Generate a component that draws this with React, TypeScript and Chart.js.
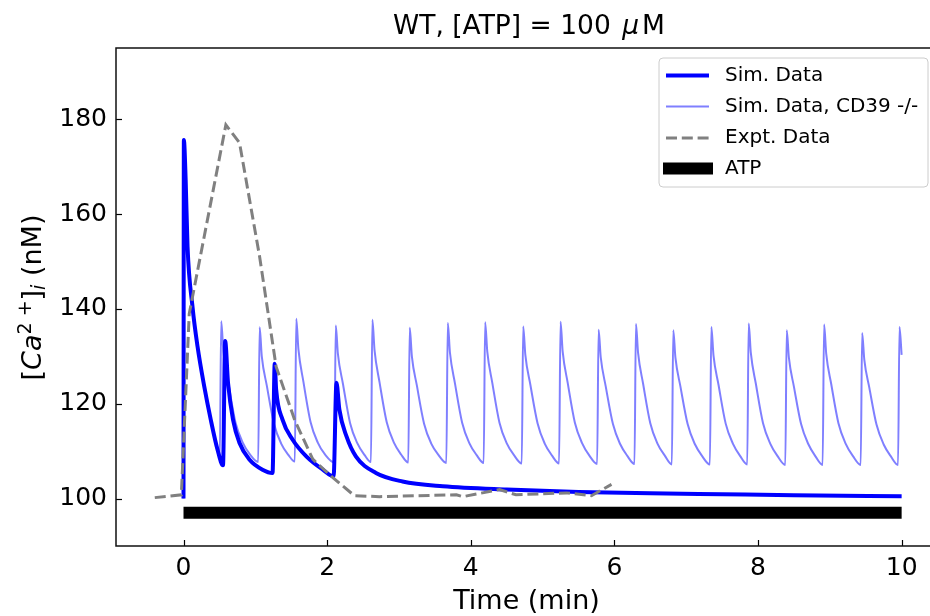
import React, { useEffect, useRef } from "react";
import { Chart, registerables } from "chart.js";
Chart.register(...registerables);

const FONT = '"DejaVu Sans", sans-serif';

// Axis ticks
const xTicks = [0, 2, 4, 6, 8, 10];
const yTicks = [100, 120, 140, 160, 180];

// Sim. Data (WT)
const simX = [0, 0.005, 0.03, 0.056, 0.125, 0.195, 0.288, 0.38, 0.474, 0.55, 0.58, 0.62, 0.69, 0.78, 0.92, 1.10, 1.24, 1.27, 1.29, 1.38, 1.52, 1.71, 1.94, 2.09, 2.13, 2.17, 2.27, 2.40, 2.68, 3.05, 3.61, 4.5, 5.5, 6.5, 7.5, 8.5, 10];
const simY = [100, 175.6, 167.2, 153.2, 140.5, 132.1, 123.7, 116.6, 110.3, 107.0, 133.2, 124.4, 116.6, 111.7, 108.2, 106.1, 105.4, 128.4, 123, 116.6, 112.4, 108.9, 106.1, 104.7, 124.4, 118.8, 113.1, 108.9, 105.4, 103.6, 102.6, 101.9, 101.4, 101.1, 100.9, 100.7, 100.5];

// Sim. Data, CD39 -/-
const cdX = [0, 0.005, 0.03, 0.056, 0.125, 0.195, 0.288, 0.38, 0.474, 0.505, 0.525,
  0.555, 0.625, 0.725, 0.825, 0.925, 1.04, 1.06,
  1.09, 1.16, 1.26, 1.36, 1.46, 1.55, 1.57,
  1.60, 1.67, 1.77, 1.87, 1.97, 2.10, 2.12,
  2.15, 2.22, 2.32, 2.42, 2.52, 2.61, 2.63,
  2.66, 2.73, 2.83, 2.93, 3.03, 3.13, 3.15,
  3.18, 3.25, 3.35, 3.45, 3.55, 3.66, 3.68,
  3.71, 3.78, 3.88, 3.98, 4.08, 4.18, 4.20,
  4.23, 4.30, 4.40, 4.50, 4.60, 4.71, 4.73,
  4.76, 4.83, 4.93, 5.03, 5.13, 5.23, 5.25,
  5.28, 5.35, 5.45, 5.55, 5.65, 5.76, 5.78,
  5.81, 5.88, 5.98, 6.08, 6.18, 6.28, 6.30,
  6.33, 6.40, 6.50, 6.60, 6.70, 6.80, 6.82,
  6.85, 6.92, 7.02, 7.12, 7.22, 7.33, 7.35,
  7.38, 7.45, 7.55, 7.65, 7.75, 7.85, 7.87,
  7.90, 7.97, 8.07, 8.17, 8.27, 8.38, 8.40,
  8.43, 8.50, 8.60, 8.70, 8.80, 8.90, 8.92,
  8.95, 9.02, 9.12, 9.22, 9.32, 9.43, 9.45,
  9.48, 9.55, 9.65, 9.75, 9.85, 9.95, 9.97,
  10.0];
const cdY = [100, 175.6, 167.2, 153.2, 140.5, 132.1, 123.7, 116.6, 110.3, 108.6, 137.4,
  131, 124.4, 116, 111.8, 109.3, 107.7, 136.1,
  130, 123.8, 115.8, 111.6, 109.2, 107.8, 137.9,
  131.5, 124.6, 116.1, 111.8, 109.3, 107.6, 136.5,
  130.5, 124.2, 115.9, 111.7, 109.2, 107.7, 137.7,
  131.3, 124.5, 116.1, 111.8, 109.3, 107.6, 136.0,
  130, 123.8, 115.8, 111.6, 109.2, 107.5, 137.0,
  130.8, 124.3, 116, 111.7, 109.2, 107.5, 137.2,
  131, 124.4, 116, 111.7, 109.2, 107.4, 136.3,
  130.3, 124, 115.9, 111.6, 109.1, 107.4, 137.3,
  131, 124.4, 116, 111.7, 109.1, 107.3, 135.6,
  129.8, 123.6, 115.7, 111.5, 109, 107.3, 136.8,
  130.7, 124.2, 115.9, 111.6, 109.1, 107.2, 135.5,
  129.7, 123.6, 115.7, 111.5, 109, 107.2, 136.2,
  130.2, 124, 115.8, 111.6, 109, 107.2, 136.9,
  130.7, 124.2, 115.9, 111.6, 109, 107.1, 135.5,
  129.7, 123.6, 115.7, 111.5, 108.9, 107.1, 136.7,
  130.5, 124.1, 115.9, 111.6, 109, 107.1, 134.9,
  129.3, 123.4, 115.6, 111.4, 108.9, 107.1, 136.2,
  130.3];

// Expt. Data
const exX = [-0.4, -0.03, 0.08, 0.59, 0.78, 1.06, 1.29, 1.55, 1.80, 2.08, 2.38, 2.73, 3.80, 3.89, 4.40, 4.63, 5.33, 5.68, 5.96];
const exY = [100.2, 100.8, 139, 178.8, 175, 151, 127.8, 116.5, 108.3, 104.4, 100.6, 100.4, 100.8, 100.4, 101.9, 100.8, 101.2, 100.6, 103.0];

// ATP application bar
const atpX = [0, 10];
const atpY = [97, 97];

const labels = ["Sim. Data", "Sim. Data, CD39 -/-", "Expt. Data", "ATP"];

const pts = (xs: number[], ys: number[]) => xs.map((x, i) => ({ x, y: ys[i] }));

export default function App() {
  const ref = useRef<HTMLCanvasElement>(null);
  useEffect(() => {
    const canvas = ref.current!;
    const decor = {
      id: "decor",
      afterDraw(chart: any) {
        const { ctx, chartArea: a, scales } = chart;
        ctx.save();
        // keep the strip past the last data point clean (no right spine in the figure)
        ctx.fillStyle = "#ffffff";
        ctx.fillRect(912, 190, 18, 352);
        // ticks (inward)
        ctx.strokeStyle = "#000";
        ctx.lineWidth = 1.2;
        ctx.setLineDash([]);
        for (const v of xTicks) {
          const p = Math.round(scales.x.getPixelForValue(v)) + 0.5;
          ctx.beginPath(); ctx.moveTo(p, a.bottom); ctx.lineTo(p, a.bottom - 6); ctx.stroke();
        }
        for (const v of yTicks) {
          const p = Math.round(scales.y.getPixelForValue(v)) + 0.5;
          ctx.beginPath(); ctx.moveTo(a.left, p); ctx.lineTo(a.left + 6, p); ctx.stroke();
        }
        // spines: top, left, bottom
        ctx.lineWidth = 1.5;
        ctx.strokeStyle = "#111";
        ctx.beginPath();
        ctx.moveTo(a.right + 5, a.top);
        ctx.lineTo(a.left, a.top);
        ctx.lineTo(a.left, a.bottom);
        ctx.lineTo(a.right + 5, a.bottom);
        ctx.stroke();

        ctx.fillStyle = "#000";
        ctx.textBaseline = "alphabetic";
        ctx.textAlign = "left";
        // title
        const tParts: [string, string, number][] = [
          ["WT, [ATP] = 100 ", `26.5px ${FONT}`, 0],
          ["\u03bc", `italic 26.5px ${FONT}`, 3],
          ["M", `26.5px ${FONT}`, 3],
        ];
        let tw = 0;
        for (const [s, f, g] of tParts) { ctx.font = f; tw += ctx.measureText(s).width + g; }
        let tx = 529 - tw / 2;
        for (const [s, f, g] of tParts) { ctx.font = f; tx += g; ctx.fillText(s, tx, 34); tx += ctx.measureText(s).width; }

        // x label
        ctx.font = `27px ${FONT}`;
        ctx.textAlign = "center";
        ctx.fillText("Time (min)", 526.5, 609);

        // y label
        ctx.textAlign = "left";
        const yParts: [string, string, number][] = [
          ["[", `27px ${FONT}`, 0],
          ["Ca", `italic 27px ${FONT}`, 0],
          ["2", `19px ${FONT}`, -10],
          [" +", `19px ${FONT}`, -10],
          ["]", `27px ${FONT}`, 0],
          ["i", `italic 19px ${FONT}`, 4],
          [" (nM)", `27px ${FONT}`, 0],
        ];
        let yw = 0;
        for (const [s, f] of yParts) { ctx.font = f; yw += ctx.measureText(s).width; }
        ctx.save();
        ctx.translate(41, 297.5);
        ctx.rotate(-Math.PI / 2);
        let yx = -yw / 2;
        for (const [s, f, dy] of yParts) { ctx.font = f; ctx.fillText(s, yx, dy); yx += ctx.measureText(s).width; }
        ctx.restore();

        // legend
        const lx = 659, ly = 58, lw = 269, lh = 129, r = 4;
        ctx.beginPath();
        ctx.moveTo(lx + r, ly);
        ctx.arcTo(lx + lw, ly, lx + lw, ly + lh, r);
        ctx.arcTo(lx + lw, ly + lh, lx, ly + lh, r);
        ctx.arcTo(lx, ly + lh, lx, ly, r);
        ctx.arcTo(lx, ly, lx + lw, ly, r);
        ctx.closePath();
        ctx.fillStyle = "rgba(255,255,255,0.8)";
        ctx.fill();
        ctx.strokeStyle = "#cccccc";
        ctx.lineWidth = 1;
        ctx.stroke();
        const rows = [75.5, 106.5, 138, 168.5];
        const ds = chart.data.datasets;
        for (let i = 0; i < 4; i++) {
          const d = ds[i];
          ctx.strokeStyle = d.borderColor;
          ctx.lineWidth = d.borderWidth;
          ctx.setLineDash(d.borderDash || []);
          ctx.lineCap = "butt";
          ctx.beginPath();
          if (i === 3) { ctx.moveTo(663, rows[i]); ctx.lineTo(713, rows[i]); }
          else { ctx.moveTo(666, rows[i]); ctx.lineTo(709, rows[i]); }
          ctx.stroke();
          ctx.setLineDash([]);
          ctx.fillStyle = "#000";
          ctx.font = `20px ${FONT}`;
          ctx.textBaseline = "middle";
          ctx.fillText(d.label, 725, rows[i]);
        }
        ctx.restore();
      },
    };

    const chart = new Chart(canvas, {
      type: "line",
      data: {
        datasets: [
          { label: labels[0], data: pts(simX, simY), borderColor: "#0000ff", borderWidth: 4, pointRadius: 0, cubicInterpolationMode: "monotone", order: 4, borderJoinStyle: "round" },
          { label: labels[1], data: pts(cdX, cdY), borderColor: "rgba(0,0,255,0.5)", borderWidth: 2, pointRadius: 0, cubicInterpolationMode: "monotone", order: 3 },
          { label: labels[2], data: pts(exX, exY), borderColor: "#808080", borderWidth: 3, borderDash: [11, 4.8], pointRadius: 0, tension: 0, order: 2 },
          { label: labels[3], data: pts(atpX, atpY), borderColor: "#000000", borderWidth: 12, borderCapStyle: "butt", pointRadius: 0, order: 1 },
        ] as any,
      },
      options: {
        responsive: false,
        animation: false,
        devicePixelRatio: 1,
        layout: { padding: { top: 48, right: 0, left: 0, bottom: 0 } },
        plugins: { legend: { display: false }, tooltip: { enabled: false }, title: { display: false } },
        scales: {
          x: {
            type: "linear",
            min: -0.94,
            max: 10.395,
            grid: { display: false, drawTicks: false },
            border: { display: false },
            ticks: { font: { family: FONT, size: 25 }, color: "#000", padding: 7, maxRotation: 0 },
            afterBuildTicks: (s: any) => { s.ticks = xTicks.map((v) => ({ value: v })); },
            afterFit: (s: any) => { s.height = 70; },
          },
          y: {
            type: "linear",
            min: 90,
            max: 195,
            grid: { display: false, drawTicks: false },
            border: { display: false },
            ticks: { font: { family: FONT, size: 25 }, color: "#000", padding: 9 },
            afterBuildTicks: (s: any) => { s.ticks = yTicks.map((v) => ({ value: v })); },
            afterFit: (s: any) => { s.width = 116; },
          },
        },
      },
      plugins: [decor],
    } as any);
    return () => chart.destroy();
  }, []);
  return (
    <div style={{ position: "fixed", left: 0, top: 0, width: 930, height: 616, overflow: "hidden", background: "#fff" }}>
      <canvas ref={ref} width={930} height={616} style={{ display: "block" }} />
    </div>
  );
}
